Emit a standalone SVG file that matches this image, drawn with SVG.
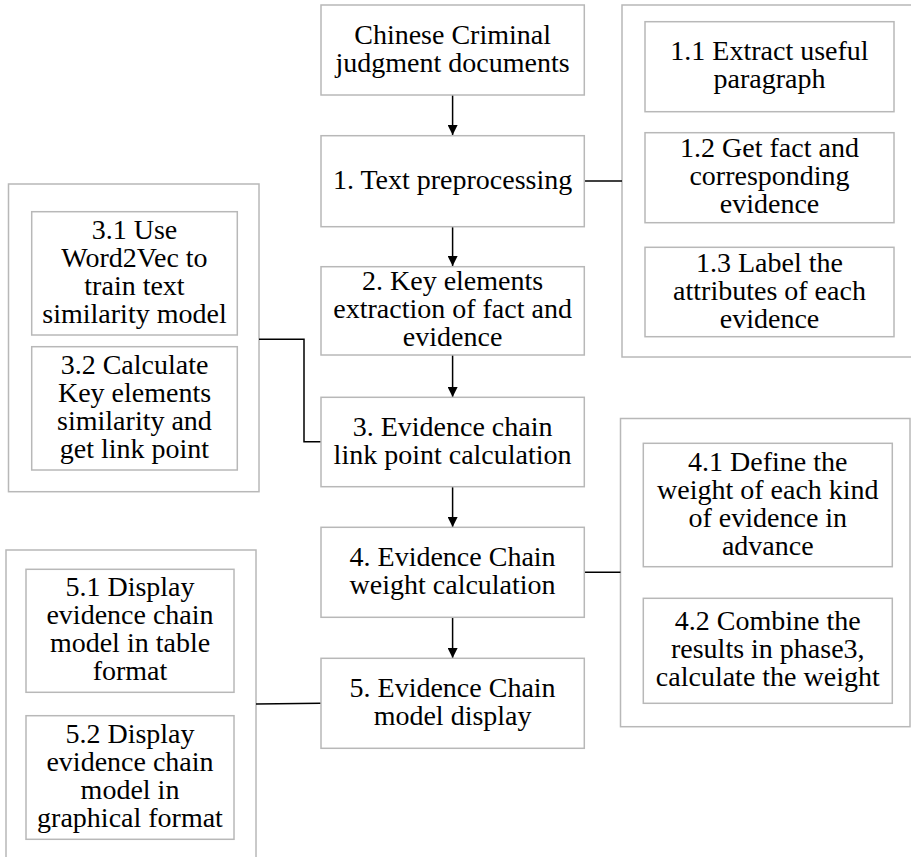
<svg xmlns="http://www.w3.org/2000/svg" width="911" height="857" viewBox="0 0 911 857">
<style>
.box{fill:#fff;stroke:#b8b8b8;stroke-width:1.5}
.grp{fill:none;stroke:#b8b8b8;stroke-width:1.5}
.lbl{font-family:"Liberation Serif","Times New Roman",serif;font-size:28px;fill:#000;text-anchor:middle}
.con{fill:none;stroke:#000;stroke-width:1.5}
</style>
<defs>
<marker id="arr" viewBox="0 0 10 10" refX="10" refY="5" markerWidth="10" markerHeight="10" markerUnits="userSpaceOnUse" orient="auto">
<path d="M0,0 L10,5 L0,10 Z" fill="#000"/>
</marker>
</defs>
<rect width="911" height="857" fill="#fff"/>

<g id="group1"><rect class="grp" x="622" y="5" width="300" height="352"/></g>
<g id="group3"><rect class="grp" x="8.5" y="184" width="250.5" height="307.7"/></g>
<g id="group4"><rect class="grp" x="620.5" y="418.5" width="289.5" height="308.2"/></g>
<g id="group5"><rect class="grp" x="6" y="550" width="250" height="320"/></g>

<g id="connectors">
<line class="con" x1="452.6" y1="95" x2="452.6" y2="135" marker-end="url(#arr)"/>
<line class="con" x1="452.6" y1="226.7" x2="452.6" y2="266" marker-end="url(#arr)"/>
<line class="con" x1="452.6" y1="355" x2="452.6" y2="397" marker-end="url(#arr)"/>
<line class="con" x1="452.6" y1="486.7" x2="452.6" y2="527" marker-end="url(#arr)"/>
<line class="con" x1="452.6" y1="617.3" x2="452.6" y2="658" marker-end="url(#arr)"/>
<line class="con" x1="584.3" y1="181" x2="622" y2="181"/>
<polyline class="con" points="259,339.3 304,339.3 304,441.7 321,441.7"/>
<line class="con" x1="584.3" y1="572.3" x2="620.5" y2="572.3"/>
<line class="con" x1="256" y1="704" x2="321" y2="703.3"/>
</g>

<g id="n0"><rect class="box" x="321" y="5" width="263.3" height="90"/>
<text class="lbl" x="452.6" y="43.5">Chinese Criminal</text><text class="lbl" x="452.6" y="71.5">judgment documents</text></g>
<g id="n1"><rect class="box" x="321" y="135.7" width="263.3" height="91"/>
<text class="lbl" x="452.6" y="188.7">1. Text preprocessing</text></g>
<g id="n2"><rect class="box" x="321" y="266.7" width="263.3" height="88.3"/>
<text class="lbl" x="452.6" y="290.3">2. Key elements</text><text class="lbl" x="452.6" y="318.3">extraction of fact and</text><text class="lbl" x="452.6" y="346.3">evidence</text></g>
<g id="n3"><rect class="box" x="321" y="397.3" width="263.3" height="89.4"/>
<text class="lbl" x="452.6" y="435.5">3. Evidence chain</text><text class="lbl" x="452.6" y="463.5">link point calculation</text></g>
<g id="n4"><rect class="box" x="321" y="527.3" width="263.3" height="90"/>
<text class="lbl" x="452.6" y="565.8">4. Evidence Chain</text><text class="lbl" x="452.6" y="593.8">weight calculation</text></g>
<g id="n5"><rect class="box" x="321" y="658.3" width="263.3" height="90"/>
<text class="lbl" x="452.6" y="696.8">5. Evidence Chain</text><text class="lbl" x="452.6" y="724.8">model display</text></g>

<g id="n11"><rect class="box" x="645" y="21.7" width="249" height="90"/>
<text class="lbl" x="769.5" y="60.2">1.1 Extract useful</text><text class="lbl" x="769.5" y="88.2">paragraph</text></g>
<g id="n12"><rect class="box" x="645" y="132.7" width="249" height="90"/>
<text class="lbl" x="769.5" y="157.2">1.2 Get fact and</text><text class="lbl" x="769.5" y="185.2">corresponding</text><text class="lbl" x="769.5" y="213.2">evidence</text></g>
<g id="n13"><rect class="box" x="645" y="247.3" width="249" height="89.4"/>
<text class="lbl" x="769.5" y="271.5">1.3 Label the</text><text class="lbl" x="769.5" y="299.5">attributes of each</text><text class="lbl" x="769.5" y="327.5">evidence</text></g>

<g id="n31"><rect class="box" x="31.7" y="211.7" width="205.6" height="123.3"/>
<text class="lbl" x="134.5" y="239">3.1 Use</text><text class="lbl" x="134.5" y="267">Word2Vec to</text><text class="lbl" x="134.5" y="295">train text</text><text class="lbl" x="134.5" y="323">similarity model</text></g>
<g id="n32"><rect class="box" x="31.7" y="346.7" width="205.6" height="123.3"/>
<text class="lbl" x="134.5" y="374">3.2 Calculate</text><text class="lbl" x="134.5" y="402">Key elements</text><text class="lbl" x="134.5" y="430">similarity and</text><text class="lbl" x="134.5" y="458">get link point</text></g>

<g id="n41"><rect class="box" x="643.3" y="443.3" width="249" height="123.4"/>
<text class="lbl" x="767.8" y="470.5">4.1 Define the</text><text class="lbl" x="767.8" y="498.5">weight of each kind</text><text class="lbl" x="767.8" y="526.5">of evidence in</text><text class="lbl" x="767.8" y="554.5">advance</text></g>
<g id="n42"><rect class="box" x="643.3" y="598.3" width="249" height="105"/>
<text class="lbl" x="767.8" y="630.3">4.2 Combine the</text><text class="lbl" x="767.8" y="658.3">results in phase3,</text><text class="lbl" x="767.8" y="686.3">calculate the weight</text></g>

<g id="n51"><rect class="box" x="26" y="569.3" width="208" height="123"/>
<text class="lbl" x="130" y="596.3">5.1 Display</text><text class="lbl" x="130" y="624.3">evidence chain</text><text class="lbl" x="130" y="652.3">model in table</text><text class="lbl" x="130" y="680.3">format</text></g>
<g id="n52"><rect class="box" x="26" y="715.7" width="208" height="123.6"/>
<text class="lbl" x="130" y="743">5.2 Display</text><text class="lbl" x="130" y="771">evidence chain</text><text class="lbl" x="130" y="799">model in</text><text class="lbl" x="130" y="827">graphical format</text></g>
</svg>
